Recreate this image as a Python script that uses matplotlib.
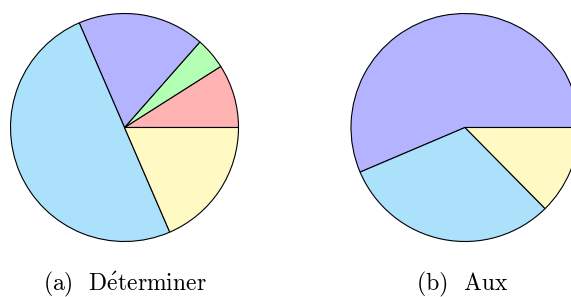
import matplotlib
matplotlib.use("Agg")
import matplotlib.pyplot as plt

plt.rcParams["mathtext.fontset"] = "cm"

# slice shares, counter-clockwise from 3 o'clock
det_values = [9, 4.5, 18, 50, 18.5]
det_colors = ["#ffb3b3", "#b3ffb3", "#b3b3ff", "#abe1fa", "#fff9c4"]
aux_values = [56.4, 31.0, 12.6]
aux_colors = ["#b3b3ff", "#abe1fa", "#fff9c4"]
captions = ["(a)  D$\\mathrm{\\acute{e}}$terminer", "(b)  Aux"]

W, H = 571, 297
fig = plt.figure(figsize=(W / 100, H / 100), dpi=100)
ax = fig.add_axes([0, 0, 1, 1])

wedge = dict(edgecolor="black", linewidth=0.8)
ax.pie(det_values, colors=det_colors, startangle=0, counterclock=True,
       center=(124.5, H - 127.5), radius=114, wedgeprops=wedge, frame=True)
ax.pie(aux_values, colors=aux_colors, startangle=0, counterclock=True,
       center=(465, H - 127.5), radius=114, wedgeprops=wedge, frame=True)
ax.set_xlim(0, W)
ax.set_ylim(0, H)
ax.set_aspect("equal")
ax.axis("off")

for x, txt in zip([125, 462], captions):
    ax.text(x, H - 284, txt, ha="center", va="center", fontsize=17,
            family=["cmr10", "DejaVu Serif"])

fig.savefig("out.png", dpi=100)
